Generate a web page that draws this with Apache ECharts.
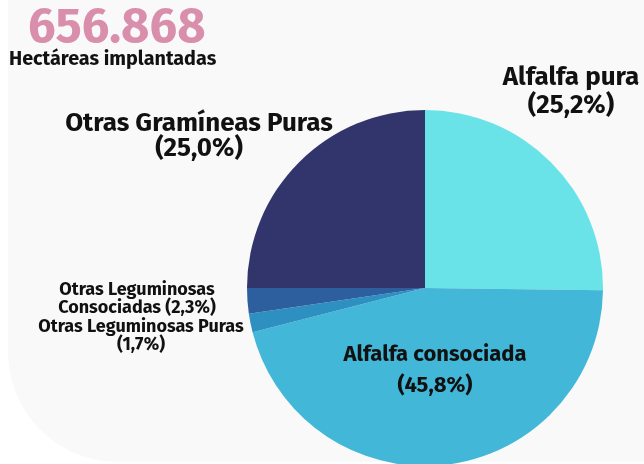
<!DOCTYPE html>
<html><head><meta charset="utf-8">
<script src="https://cdn.jsdelivr.net/npm/echarts@6/dist/echarts.min.js"></script>
<style>html,body{margin:0;padding:0;background:#fff}#c{width:644px;height:464px}</style>
</head><body><div id="c"></div>
<script>
const categories = ['Alfalfa pura','Alfalfa consociada','Otras Leguminosas Puras','Otras Leguminosas Consociadas','Otras Gramíneas Puras'];
const values = [25.2, 45.8, 1.7, 2.3, 25.0];
const colors = ['#69e3e8','#42b7d7','#2e8fc1','#2d5f9f','#32356c'];
const totalText = '656.868';
const subtitleText = 'Hectáreas implantadas';

const fmt = v => v.toFixed(1).replace('.', ',');
const F = '"Fira Sans","Noto Sans",sans-serif';
const labelCfg = [
  {x:571, y:92, size:26, lh:28, text:(n,v)=>n+'\n('+v+'%)'},
  {x:435, y:370, size:22, lh:31, text:(n,v)=>n+'\n('+v+'%)'},
  {x:141, y:336, size:18, lh:18, text:(n,v)=>n+'\n('+v+'%)'},
  {x:137, y:299, size:18, lh:18, text:(n,v)=>'Otras Leguminosas\nConsociadas ('+v+'%)'},
  {x:199, y:136, size:26, lh:25, text:(n,v)=>n+'\n('+v+'%)'}
];

const chart = echarts.init(document.getElementById('c'));
chart.setOption({
  animation:false,
  graphic:[
    {type:'rect', z:-10, shape:{x:8,y:0,width:636,height:462,r:[0,0,0,110]}, style:{fill:'#f9f9f9'}},
    {type:'text', left:28, top:4, style:{text:totalText, fill:'#d98fab', font:'bold 49px '+F}},
    {type:'text', left:9, top:49, style:{text:subtitleText, fill:'#111', font:'bold 19.8px '+F}}
  ],
  series:[{
    type:'pie',
    center:[425,288],
    radius:[0,178],
    startAngle:90,
    clockwise:true,
    silent:true,
    labelLine:{show:false},
    data: categories.map((c,i)=>({
      name:c, value:values[i],
      itemStyle:{color:colors[i]},
      label:{
        show:true, overflow:'none', width:400,
        formatter: labelCfg[i].text(c, fmt(values[i])),
        fontFamily:F, fontWeight:'bold', fontSize:labelCfg[i].size, lineHeight:labelCfg[i].lh,
        color:'#111', align:'center'
      }
    })),
    labelLayout: p => ({x:labelCfg[p.dataIndex].x, y:labelCfg[p.dataIndex].y, align:'center', verticalAlign:'middle'})
  }]
});
</script></body></html>
